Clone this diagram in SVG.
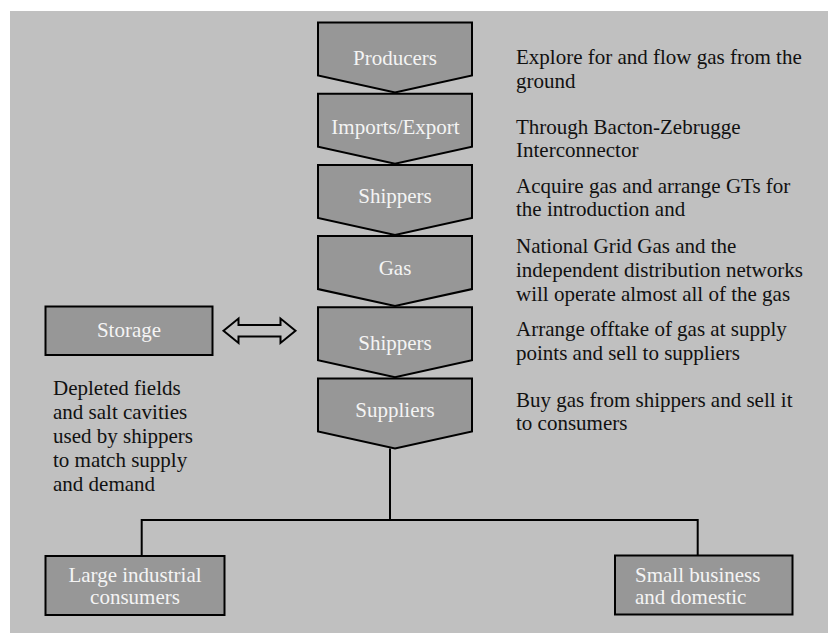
<svg xmlns="http://www.w3.org/2000/svg" width="828" height="635" viewBox="0 0 828 635">
<style>
  .box { fill: #979797; stroke: #000; stroke-width: 2; }
  .lbl { font-family: "Liberation Serif", "Times New Roman", serif; font-size: 21px; fill: #f4f4f4; }
  .desc { font-family: "Liberation Serif", "Times New Roman", serif; font-size: 21px; fill: #111; }
  .conn { fill: none; stroke: #000; stroke-width: 2; }
</style>
<rect x="0" y="0" width="828" height="635" fill="#ffffff"/>
<rect x="10" y="11" width="818" height="622" fill="#c0c0c0"/>

<g id="producers">
  <path class="box" d="M318,22.5 H472 V75.5 L395,92.5 L318,75.5 Z"/>
  <text class="lbl" x="395" y="65" text-anchor="middle">Producers</text>
</g>
<g id="imports">
  <path class="box" d="M318,93.7 H472 V146.7 L395,163.7 L318,146.7 Z"/>
  <text class="lbl" x="395.5" y="133.5" text-anchor="middle">Imports/Export</text>
</g>
<g id="shippers1">
  <path class="box" d="M318,164.9 H472 V217.9 L395,234.9 L318,217.9 Z"/>
  <text class="lbl" x="395" y="203" text-anchor="middle">Shippers</text>
</g>
<g id="gas">
  <path class="box" d="M318,236.1 H472 V289.1 L395,306.1 L318,289.1 Z"/>
  <text class="lbl" x="395" y="275" text-anchor="middle">Gas</text>
</g>
<g id="shippers2">
  <path class="box" d="M318,307.3 H472 V360.3 L395,377.3 L318,360.3 Z"/>
  <text class="lbl" x="395" y="350" text-anchor="middle">Shippers</text>
</g>
<g id="suppliers">
  <path class="box" d="M318,378.5 H472 V431.5 L395,448.5 L318,431.5 Z"/>
  <text class="lbl" x="395" y="417" text-anchor="middle">Suppliers</text>
</g>

<g id="storage">
  <rect class="box" x="45.5" y="306.5" width="167" height="48.5"/>
  <text class="lbl" x="129" y="337" text-anchor="middle">Storage</text>
</g>

<g id="large-industrial">
  <rect class="box" x="45.5" y="556" width="179" height="59"/>
  <text class="lbl" x="135" y="582" text-anchor="middle">Large industrial</text>
  <text class="lbl" x="135" y="604" text-anchor="middle">consumers</text>
</g>
<g id="small-business">
  <rect class="box" x="615" y="555.5" width="177.5" height="59"/>
  <text class="lbl" x="635" y="582">Small business</text>
  <text class="lbl" x="635" y="604">and domestic</text>
</g>

<g id="descriptions">
  <text class="desc" x="516" y="63.5">Explore for and flow gas from the</text>
  <text class="desc" x="516" y="87.5">ground</text>
  <text class="desc" x="516" y="133.5">Through Bacton-Zebrugge</text>
  <text class="desc" x="516" y="157">Interconnector</text>
  <text class="desc" x="516" y="193">Acquire gas and arrange GTs for</text>
  <text class="desc" x="516" y="216">the introduction and</text>
  <text class="desc" x="516" y="253">National Grid Gas and the</text>
  <text class="desc" x="516" y="277">independent distribution networks</text>
  <text class="desc" x="516" y="300.5">will operate almost all of the gas</text>
  <text class="desc" x="516" y="336">Arrange offtake of gas at supply</text>
  <text class="desc" x="516" y="359.5">points and sell to suppliers</text>
  <text class="desc" x="516" y="406.5">Buy gas from shippers and sell it</text>
  <text class="desc" x="516" y="430">to consumers</text>
  <text class="desc" x="53" y="395">Depleted fields</text>
  <text class="desc" x="53" y="419">and salt cavities</text>
  <text class="desc" x="53" y="443">used by shippers</text>
  <text class="desc" x="53" y="467">to match supply</text>
  <text class="desc" x="53" y="491">and demand</text>
</g>

<g id="connectors">
  <path class="conn" d="M223.5,330.7 L238.5,318.5 V325 H280.5 V318.5 L295.5,330.7 L280.5,343 V336.5 H238.5 V343 Z" fill="#c0c0c0"/>
  <path class="conn" d="M390,448.5 V520"/>
  <path class="conn" d="M141.7,556 V520 H697.7 V555.5"/>
</g>
</svg>
